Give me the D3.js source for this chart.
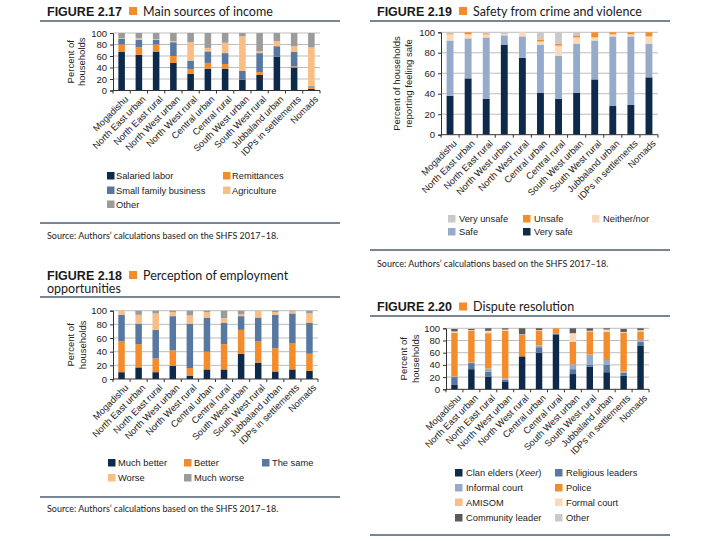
<!DOCTYPE html>
<html>
<head>
<meta charset="utf-8">
<script src="https://cdn.jsdelivr.net/npm/d3@7"></script>
<style>
  body { margin: 0; background: #fff; }
  svg { display: block; font-family: "Liberation Sans", Arial, sans-serif; }
  .fignum { font-weight: bold; font-size: 12.5px; fill: #1a1a1a; }
  .figtitle { font-family: Lato, sans-serif; font-size: 12.5px; fill: #1a1a1a; }
  .source { font-family: Lato, sans-serif; font-size: 9px; fill: #222; }
  .tick text { font-size: 9.5px; fill: #222; }
  .xlab, .ylab, .legend text { font-size: 9.3px; fill: #222; }
</style>
</head>
<body>
<svg id="chart" width="718" height="541"></svg>
<script>
const regions = [
  'Mogadishu', 'North East urban', 'North East rural', 'North West urban',
  'North West rural', 'Central urban', 'Central rural', 'South West urban',
  'South West rural', 'Jubbaland urban', 'IDPs in settlements', 'Nomads'
];
const yTicks = [0, 20, 40, 60, 80, 100];

// Figure 2.17, one row per region, in the order of incomeKeys
const incomeKeys = ['Salaried labor', 'Remittances', 'Small family business', 'Agriculture', 'Other'];
const incomeShares = [
  [67, 13, 10, 1, 9], [62, 13, 13, 3, 9], [67, 13, 8, 1, 11], [48, 12, 24, 2, 14],
  [29, 8, 15, 32, 16], [38, 10, 20, 6, 26], [38, 8, 19, 18, 17], [19, 0, 15, 60, 6],
  [27, 5, 33, 3, 32], [59, 0, 18, 9, 14], [40, 2, 25, 10, 23], [3, 4, 1, 67, 25]
];

// Figure 2.19
const safetyKeys = ['Very safe', 'Safe', 'Neither/nor', 'Unsafe', 'Very unsafe'];
const safetyShares = [
  [38, 54, 6, 1, 1], [55, 39, 4, 2, 0], [35, 60, 3, 1, 1], [88, 9, 1, 0, 2],
  [75, 21, 4, 0, 0], [41, 47, 3, 2, 7], [35, 42, 10, 2, 11], [41, 48, 6, 2, 3],
  [54, 38, 3, 5, 0], [28, 68, 2, 2, 0], [29, 67, 2, 2, 0], [56, 33, 7, 4, 0]
];

// Figure 2.18
const jobKeys = ['Much better', 'Better', 'The same', 'Worse', 'Much worse'];
const jobShares = [
  [10, 45, 39, 6, 0], [17, 34, 30, 13, 6], [10, 20, 42, 24, 4], [19, 23, 50, 6, 2],
  [5, 11, 65, 12, 7], [14, 26, 50, 8, 2], [14, 37, 31, 7, 11], [37, 35, 20, 3, 5],
  [24, 31, 35, 10, 0], [11, 34, 49, 4, 2], [14, 38, 44, 3, 1], [12, 25, 45, 14, 4]
];

// Figure 2.20
const disputeKeys = ['Clan elders (Xeer)', 'Religious leaders', 'Informal court', 'Police',
  'AMISOM', 'Formal court', 'Community leader', 'Other'];
const disputeShares = [
  [8, 12, 1, 72, 0, 2, 4, 1], [33, 10, 1, 52, 0, 1, 2, 1], [21, 8, 5, 58, 0, 4, 4, 0],
  [13, 3, 2, 78, 0, 2, 2, 0], [54, 0, 0, 35, 0, 1, 10, 0], [60, 9, 3, 24, 0, 1, 3, 0],
  [89, 2, 0, 9, 0, 0, 0, 0], [25, 8, 8, 37, 0, 14, 8, 0], [37, 3, 17, 38, 0, 1, 4, 0],
  [28, 12, 8, 46, 0, 4, 2, 0], [22, 5, 2, 64, 0, 1, 5, 0], [72, 6, 3, 14, 0, 2, 3, 0]
];

const sourceText = 'Source: Authors\u2019 calculations based on the SHFS 2017\u201318.';

const c = {
  navy: '#0d2a4a', orange: '#f48c2c', midBlue: '#5878a1', lightBlue: '#95abc9',
  lightOrange: '#f9bd85', peach: '#fcd9bb', gray: '#9b9b9b', lightGray: '#c9c9c9',
  darkGray: '#5a5a5a', rule: '#4b5d6e', grid: '#b5b5b5', axis: '#333'
};

const svg = d3.select('#chart');

function drawPanel(p) {
  const g = svg.append('g');

  // title block
  const num = g.append('text').attr('class', 'fignum').attr('x', p.x0 + 7).attr('y', p.titleY).text(p.num);
  const numW = num.node().getComputedTextLength();
  g.append('rect')
    .attr('x', p.x0 + 7 + numW + 7).attr('y', p.titleY - 8.5)
    .attr('width', 8).attr('height', 8).attr('fill', c.orange);
  p.title.forEach((t, i) => {
    g.append('text').attr('class', 'figtitle')
      .attr('x', i === 0 ? p.x0 + 7 + numW + 21 : p.x0 + 7)
      .attr('y', p.titleY + i * 13.5)
      .text(t);
  });
  g.append('line')
    .attr('x1', p.x0).attr('x2', p.x1).attr('y1', p.ruleY).attr('y2', p.ruleY)
    .attr('stroke', c.rule).attr('stroke-width', 1.4);

  // scales
  const x = d3.scaleBand(regions, [p.left, p.right]).paddingInner(0.62).paddingOuter(0.31);
  const y = d3.scaleLinear([0, 100], [p.bottom, p.top]);

  g.append('g').selectAll('line')
    .data(yTicks.slice(1))
    .join('line')
    .attr('x1', p.left).attr('x2', p.right)
    .attr('y1', (d) => y(d)).attr('y2', (d) => y(d))
    .attr('stroke', c.grid).attr('stroke-width', 0.9);

  // stacked bars
  const rows = p.shares.map((vals, i) => {
    const o = { region: regions[i] };
    p.keys.forEach((k, j) => (o[k] = vals[j]));
    return o;
  });
  const stack = d3.stack().keys(p.keys)(rows);
  g.append('g').selectAll('g')
    .data(stack)
    .join('g')
    .attr('fill', (d, i) => p.colors[i])
    .selectAll('rect')
    .data((d) => d)
    .join('rect')
    .attr('x', (d) => x(d.data.region))
    .attr('width', x.bandwidth())
    .attr('y', (d) => y(d[1]))
    .attr('height', (d) => Math.max(0, y(d[0]) - y(d[1])));

  // y axis
  const yAxis = g.append('g')
    .attr('transform', `translate(${p.left},0)`)
    .call(d3.axisLeft(y).tickValues(yTicks).tickSize(3).tickPadding(3));
  yAxis.selectAll('line, path').attr('stroke', c.axis);

  // x axis: baseline and ticks at band edges
  g.append('line')
    .attr('x1', p.left).attr('x2', p.right).attr('y1', p.bottom).attr('y2', p.bottom)
    .attr('stroke', c.axis);
  const step = x.step();
  g.append('g').selectAll('line')
    .data(d3.range(regions.length + 1))
    .join('line')
    .attr('x1', (i) => p.left + i * step).attr('x2', (i) => p.left + i * step)
    .attr('y1', p.bottom).attr('y2', p.bottom + 3)
    .attr('stroke', c.axis);

  g.append('g').selectAll('text')
    .data(regions)
    .join('text')
    .attr('class', 'xlab')
    .attr('text-anchor', 'end')
    .attr('transform', (d) => `translate(${x(d) + x.bandwidth() / 2 + 5},${p.bottom + 7}) rotate(-45)`)
    .attr('dy', '0.35em')
    .text((d) => d);

  // y label
  const midY = (p.top + p.bottom) / 2;
  p.yLabel.forEach((t, i) => {
    g.append('text').attr('class', 'ylab')
      .attr('text-anchor', 'middle')
      .attr('dominant-baseline', 'central')
      .attr('transform', `translate(${p.yLabelX[i]},${midY}) rotate(-90)`)
      .style('font-size', '9.5px')
      .text(t);
  });

  // legend
  const lg = g.append('g').attr('class', 'legend');
  p.legendOrder.forEach((k, i) => {
    const col = i % p.legend.xs.length;
    const row = Math.floor(i / p.legend.xs.length);
    const lx = p.legend.xs[col];
    const ly = p.legend.ys[row];
    lg.append('rect')
      .attr('x', lx).attr('y', ly - 4).attr('width', 7.5).attr('height', 7.5)
      .attr('fill', p.colors[p.keys.indexOf(k)]);
    const t = lg.append('text').attr('x', lx + p.legend.gap).attr('y', ly + 3.3);
    if (k === 'Clan elders (Xeer)') {
      t.append('tspan').text('Clan elders (');
      t.append('tspan').style('font-style', 'italic').text('Xeer');
      t.append('tspan').text(')');
    } else {
      t.text(k);
    }
  });

  // source
  g.append('line')
    .attr('x1', p.x0).attr('x2', p.x1).attr('y1', p.srcRule).attr('y2', p.srcRule)
    .attr('stroke', c.rule).attr('stroke-width', 1.4);
  if (p.srcY) {
    g.append('text').attr('class', 'source').attr('x', p.x0 + 7).attr('y', p.srcY).text(sourceText);
  }
}

drawPanel({
  num: 'FIGURE 2.17', title: ['Main sources of income'],
  x0: 40, x1: 340, titleY: 15.5, ruleY: 21,
  left: 113, right: 320, top: 33, bottom: 90.5,
  keys: incomeKeys, shares: incomeShares,
  colors: [c.navy, c.orange, c.midBlue, c.lightOrange, c.gray],
  yLabel: ['Percent of', 'households'], yLabelX: [70, 81],
  legend: { xs: [107, 223], ys: [176, 190.5, 204.5], gap: 9 },
  legendOrder: incomeKeys,
  srcRule: 223, srcY: 239
});

drawPanel({
  num: 'FIGURE 2.19', title: ['Safety from crime and violence'],
  x0: 370, x1: 670, titleY: 15.5, ruleY: 21,
  left: 441, right: 658, top: 32.3, bottom: 134.7,
  keys: safetyKeys, shares: safetyShares,
  colors: [c.navy, c.lightBlue, c.peach, c.orange, c.lightGray],
  yLabel: ['Percent of households', 'reporting feeling safe'], yLabelX: [396, 408],
  legend: { xs: [448, 523, 592], ys: [219, 232], gap: 11 },
  legendOrder: safetyKeys.slice().reverse(),
  srcRule: 250, srcY: 267
});

drawPanel({
  num: 'FIGURE 2.18', title: ['Perception of employment', 'opportunities'],
  x0: 40, x1: 340, titleY: 279.5, ruleY: 297,
  left: 113, right: 318, top: 310.7, bottom: 379,
  keys: jobKeys, shares: jobShares,
  colors: [c.navy, c.orange, c.midBlue, c.lightOrange, c.gray],
  yLabel: ['Percent of', 'households'], yLabelX: [70, 82],
  legend: { xs: [108, 184, 262], ys: [463, 478], gap: 10 },
  legendOrder: jobKeys,
  srcRule: 497, srcY: 512
});

drawPanel({
  num: 'FIGURE 2.20', title: ['Dispute resolution'],
  x0: 370, x1: 670, titleY: 311, ruleY: 316,
  left: 446, right: 649, top: 328.3, bottom: 389.3,
  keys: disputeKeys, shares: disputeShares,
  colors: [c.navy, c.midBlue, c.lightBlue, c.orange, c.lightOrange, c.peach, c.darkGray, c.lightGray],
  yLabel: ['Percent of', 'households'], yLabelX: [403, 415],
  legend: { xs: [455, 555], ys: [473, 488, 502.5, 518], gap: 11 },
  legendOrder: disputeKeys,
  srcRule: 535, srcY: null
});
</script>
</body>
</html>
